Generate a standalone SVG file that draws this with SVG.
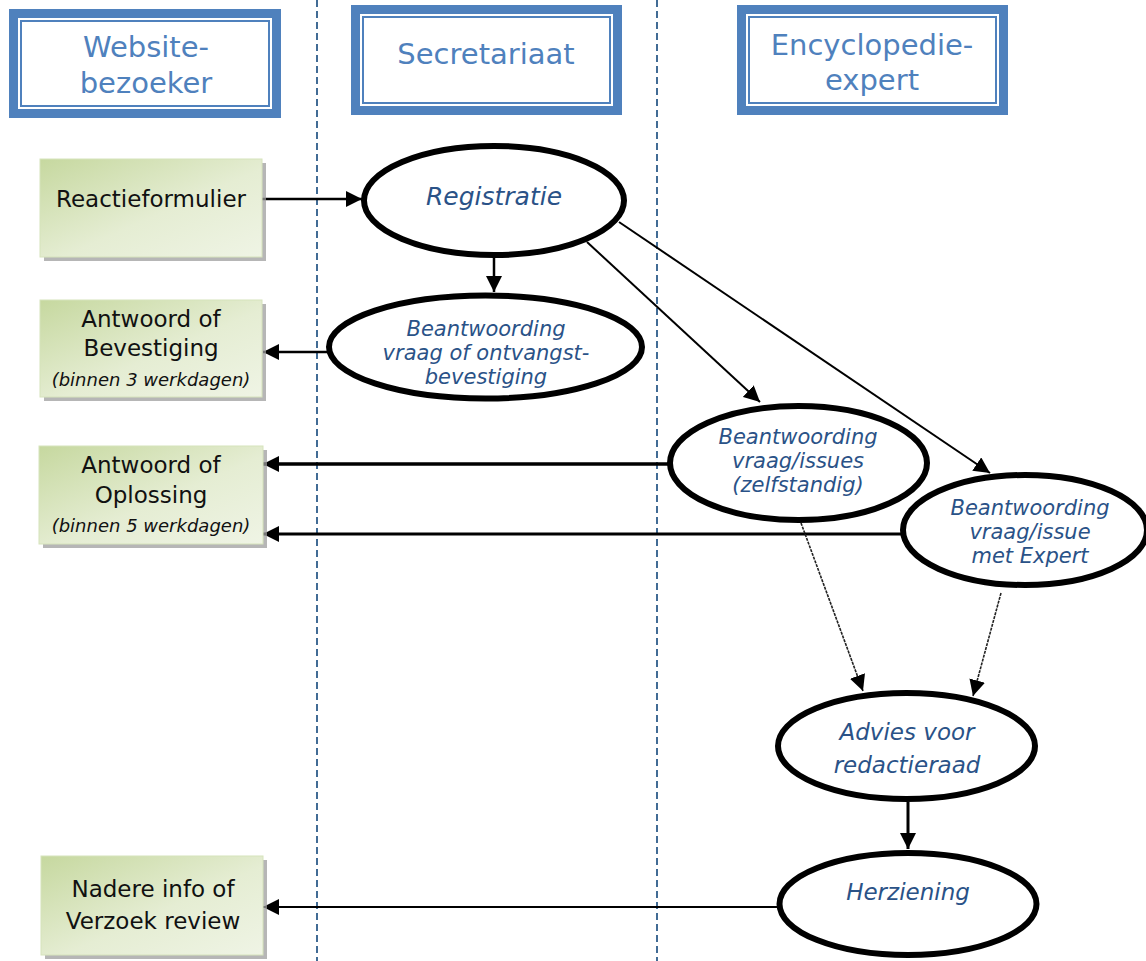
<svg xmlns="http://www.w3.org/2000/svg" width="1146" height="961" viewBox="0 0 1146 961">
<defs>
<style>
.lane{stroke:#2E5C8A;stroke-width:1.8;stroke-dasharray:7 4;fill:none}
.hb{fill:#4F81BD}
.hw{fill:#fff}
.hl{fill:none;stroke:#4F81BD;stroke-width:2}
.ht{font-family:"DejaVu Sans",Verdana,sans-serif;font-size:29px;fill:#4F81BD;text-anchor:middle}
.gs{fill:#9E9E9E;opacity:0.75}
.gb{fill:url(#gg);stroke:#D6E3BC;stroke-width:1}
.gt{font-family:"DejaVu Sans",Verdana,sans-serif;font-size:23px;fill:#111;text-anchor:middle}
.gi{font-family:"DejaVu Sans",Verdana,sans-serif;font-size:18px;font-style:italic;fill:#111;text-anchor:middle}
.el{fill:#fff;stroke:#000;stroke-width:6}
.et{font-family:"DejaVu Sans",Verdana,sans-serif;font-style:italic;fill:#2A5287;text-anchor:middle}
.c{stroke:#000;fill:none}
.d{stroke:#222;fill:none;stroke-width:1.6;stroke-dasharray:3 1}
</style>
<linearGradient id="gg" x1="0" y1="0" x2="1" y2="1">
<stop offset="0" stop-color="#C6D89F"/>
<stop offset="0.55" stop-color="#E5EDD3"/>
<stop offset="1" stop-color="#EFF4E5"/>
</linearGradient>
<marker id="ah" markerUnits="userSpaceOnUse" markerWidth="18" markerHeight="16" refX="16" refY="8" orient="auto">
<path d="M0,0 L16,8 L0,16 Z" fill="#000"/>
</marker>
</defs>
<rect width="1146" height="961" fill="#fff"/>
<g id="lanes">
<line class="lane" x1="317" y1="0" x2="317" y2="961"/>
<line class="lane" x1="657" y1="0" x2="657" y2="961"/>
</g>
<g id="connectors">
<line class="c" stroke-width="2.5" x1="262" y1="199" x2="362" y2="199" marker-end="url(#ah)"/>
<line class="c" stroke-width="2.5" x1="494" y1="256" x2="494" y2="292" marker-end="url(#ah)"/>
<line class="c" stroke-width="2.5" x1="327" y1="352" x2="263" y2="352" marker-end="url(#ah)"/>
<line class="c" stroke-width="2" x1="587" y1="242" x2="760" y2="402" marker-end="url(#ah)"/>
<line class="c" stroke-width="2" x1="619" y1="222" x2="990" y2="473" marker-end="url(#ah)"/>
<line class="c" stroke-width="3.5" x1="668" y1="464" x2="263" y2="464" marker-end="url(#ah)"/>
<line class="c" stroke-width="3" x1="901" y1="534" x2="263" y2="534" marker-end="url(#ah)"/>
<line class="d" x1="801" y1="523" x2="863" y2="691" marker-end="url(#ah)"/>
<line class="d" x1="1001" y1="593" x2="973" y2="696" marker-end="url(#ah)"/>
<line class="c" stroke-width="3" x1="908" y1="802" x2="908" y2="849" marker-end="url(#ah)"/>
<line class="c" stroke="#111" stroke-width="2.2" x1="778" y1="907" x2="263" y2="907" marker-end="url(#ah)"/>
</g>
<g id="hdr-bezoeker">
<rect class="hb" x="9" y="9" width="272" height="109"/>
<rect class="hw" x="18" y="18" width="254" height="91"/>
<rect class="hl" x="21" y="21" width="248" height="85"/>
<text class="ht" x="146" y="57">Website-</text>
<text class="ht" x="146" y="93">bezoeker</text>
</g>
<g id="hdr-secretariaat">
<rect class="hb" x="351" y="5" width="271" height="110"/>
<rect class="hw" x="360" y="14" width="253" height="92"/>
<rect class="hl" x="363" y="17" width="247" height="86"/>
<text class="ht" x="486" y="64">Secretariaat</text>
</g>
<g id="hdr-expert">
<rect class="hb" x="737" y="5" width="271" height="110"/>
<rect class="hw" x="746" y="14" width="253" height="92"/>
<rect class="hl" x="749" y="17" width="247" height="86"/>
<text class="ht" x="872" y="55">Encyclopedie-</text>
<text class="ht" x="872" y="90">expert</text>
</g>
<g id="reactieformulier">
<rect class="gs" x="44" y="163" width="222" height="98"/>
<rect class="gb" x="40" y="159" width="222" height="98"/>
<text class="gt" x="151" y="207">Reactieformulier</text>
</g>
<g id="antwoord-bevestiging">
<rect class="gs" x="44" y="304" width="222" height="97"/>
<rect class="gb" x="40" y="300" width="222" height="97"/>
<text class="gt" x="151" y="327">Antwoord of</text>
<text class="gt" x="151" y="356">Bevestiging</text>
<text class="gi" x="151" y="386">(binnen 3 werkdagen)</text>
</g>
<g id="antwoord-oplossing">
<rect class="gs" x="43" y="450" width="224" height="98"/>
<rect class="gb" x="39" y="446" width="224" height="98"/>
<text class="gt" x="151" y="473">Antwoord of</text>
<text class="gt" x="151" y="503">Oplossing</text>
<text class="gi" x="151" y="532">(binnen 5 werkdagen)</text>
</g>
<g id="nadere-info">
<rect class="gs" x="45" y="860" width="222" height="99"/>
<rect class="gb" x="41" y="856" width="222" height="99"/>
<text class="gt" x="153" y="897">Nadere info of</text>
<text class="gt" x="153" y="929">Verzoek review</text>
</g>
<g id="registratie">
<ellipse class="el" cx="494" cy="200.5" rx="130" ry="54.5"/>
<text class="et" x="494" y="205" font-size="25">Registratie</text>
</g>
<g id="beantwoording-ontvangst">
<ellipse class="el" cx="485.5" cy="347" rx="156.5" ry="51.5"/>
<text class="et" x="486" y="336" font-size="21">Beantwoording</text>
<text class="et" x="486" y="360" font-size="21">vraag of ontvangst-</text>
<text class="et" x="486" y="384" font-size="21">bevestiging</text>
</g>
<g id="beantwoording-zelfstandig">
<ellipse class="el" cx="798.5" cy="463" rx="128.5" ry="57"/>
<text class="et" x="798" y="444" font-size="21">Beantwoording</text>
<text class="et" x="798" y="468" font-size="21">vraag/issues</text>
<text class="et" x="798" y="492" font-size="21">(zelfstandig)</text>
</g>
<g id="beantwoording-expert">
<ellipse class="el" cx="1025" cy="530" rx="122" ry="55"/>
<text class="et" x="1030" y="515" font-size="21">Beantwoording</text>
<text class="et" x="1030" y="539" font-size="21">vraag/issue</text>
<text class="et" x="1030" y="563" font-size="21">met Expert</text>
</g>
<g id="advies">
<ellipse class="el" cx="906.5" cy="746" rx="128.5" ry="53"/>
<text class="et" x="907" y="740" font-size="23">Advies voor</text>
<text class="et" x="907" y="773" font-size="23">redactieraad</text>
</g>
<g id="herziening">
<ellipse class="el" cx="908" cy="904" rx="128.5" ry="51"/>
<text class="et" x="908" y="900" font-size="23">Herziening</text>
</g>
</svg>
